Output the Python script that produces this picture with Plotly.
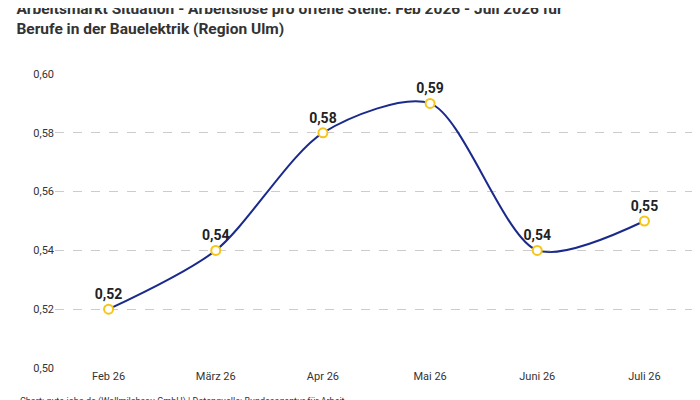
import plotly.graph_objects as go

monate = ["Feb 26", "März 26", "Apr 26", "Mai 26", "Juni 26", "Juli 26"]
werte = [0.52, 0.54, 0.58, 0.59, 0.54, 0.55]
y_ticks = [0.50, 0.52, 0.54, 0.56, 0.58, 0.60]

fig = go.Figure(go.Scatter(
    x=monate, y=werte,
    mode="lines+markers+text",
    line=dict(color="#1a2a8c", width=2, shape="spline", smoothing=0.8),
    marker=dict(size=9, color="white", line=dict(color="#f5c518", width=2)),
    text=[f"{v:.2f}".replace(".", ",") for v in werte],
    textposition="top center",
    textfont=dict(family="Roboto", size=14, color="#222"),
    texttemplate="<b>%{text}</b>",
    cliponaxis=False,
))

fig.update_layout(
    width=700, height=400,
    margin=dict(l=47, r=10, t=66, b=40, autoexpand=False),
    plot_bgcolor="white", paper_bgcolor="white",
    font=dict(family="Roboto", size=11, color="#333"),
    showlegend=False,
    title=dict(
        text="<b>Arbeitsmarkt Situation - Arbeitslose pro offene Stelle: Feb 2026 - Juli 2026 für<br>Berufe in der Bauelektrik (Region Ulm)</b>",
        x=0.012, xanchor="left", yref="container", y=0.985, yanchor="top",
        font=dict(size=15.5, color="#333"),
    ),
    xaxis=dict(range=[-0.5, 5.5], showgrid=False, showline=False, ticks="",
               tickfont=dict(size=11, color="#333")),
    yaxis=dict(
        range=[0.5, 0.6], tickvals=y_ticks,
        ticktext=[f"{v:.2f}".replace(".", ",") for v in y_ticks],
        showgrid=True, gridcolor="#cccccc", griddash="dash",
        zeroline=False, showline=False, tickfont=dict(size=11, color="#333"),
    ),
    annotations=[dict(
        text="Chart: gute-jobs.de (Wollmilchsau GmbH) | Datenquelle: Bundesagentur für Arbeit",
        xref="paper", yref="paper", x=-0.058, y=-0.09, xanchor="left", yanchor="top",
        showarrow=False, font=dict(size=9, color="#333"),
    )],
)

fig.write_html("out.html")
